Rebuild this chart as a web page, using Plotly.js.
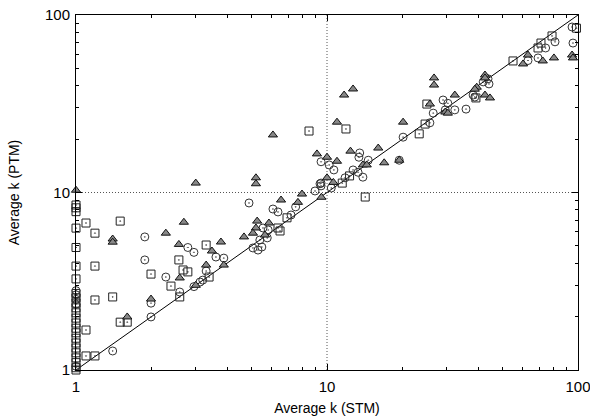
<!DOCTYPE html>
<html>
<head>
<meta charset="utf-8">
<script src="https://cdn.plot.ly/plotly-3.0.1.min.js"></script>
<style>html,body{margin:0;padding:0;background:#fff;}#chart{width:590px;height:420px;}</style>
</head>
<body>
<div id="chart"></div>
<script>
// Triangles (filled gray)
const triX = [1, 1.40, 1.40, 2.28, 2.69, 2.57, 2.59, 1.99, 1.60, 3.0, 5.21, 5.21, 7.95, 6.56, 7.66, 5.27, 5.87, 5.21, 4.67, 3.78, 3.48, 3.88, 3.30, 3.0, 11.7, 12.7, 10.96, 6.09, 9.12, 10.0, 12.4, 10.96, 13.9, 14.4, 10.0, 10.6, 9.5, 26.7, 26.7, 25.7, 32.3, 29.6, 20.1, 16.0, 16.9, 19.4, 94.7, 95.5, 80.2, 72.4, 63.2, 60.4, 42.6, 42.6, 39.5, 38.8, 42.6, 44.6, 5.66, 5.07, 30.3];
const triY = [10.3, 5.47, 5.25, 5.9, 6.8, 5.1, 3.3, 2.51, 1.99, 11.3, 12.1, 11.2, 9.8, 9.07, 8.8, 6.9, 6.73, 6.31, 5.62, 5.26, 4.68, 3.9, 3.9, 3.0, 35.4, 38.3, 24.9, 21.1, 16.5, 15.8, 17.1, 15.0, 14.3, 14.3, 12.1, 11.4, 9.4, 44.2, 40.3, 31.5, 35.4, 28.4, 24.9, 17.8, 14.7, 15.2, 59.5, 57.3, 57.3, 55.1, 59.5, 53.0, 45.9, 44.2, 39.2, 38.2, 35.4, 34.1, 5.76, 5.9, 28.0];

// Squares (open, dotted centre)
const sqX = [1, 1, 1, 1, 1, 1, 1, 1, 1, 1, 1, 1, 1, 1, 1, 1, 1, 1, 1, 1, 1, 1, 1, 1,
  1.096, 1.50, 1.19, 2.57, 1.19, 1.99, 2.67, 2.79, 2.39, 2.59, 1.19, 1.40, 1.50, 1.60, 1.096, 1.096, 1.19, 3.30, 3.39, 6.93, 6.38, 6.5, 11.9, 8.48, 14.2, 12.3, 11.5, 25.0, 24.6, 23.3, 98.6, 78.8, 71.2, 69.3, 55.1, 39.2];
const sqY = [8.5, 8.2, 7.8, 6.3, 4.9, 3.85, 3.26, 2.7, 2.55, 2.38, 2.24, 2.1, 1.96, 1.84, 1.72, 1.62, 1.51, 1.42, 1.33, 1.25, 1.17, 1.1, 1.03, 1.0,
  6.73, 6.9, 5.9, 4.17, 3.85, 3.47, 3.66, 3.57, 2.97, 2.58, 2.48, 2.58, 1.86, 1.86, 1.68, 1.2, 1.2, 5.06, 3.34, 7.2, 6.31, 6.07, 22.8, 22.2, 9.43, 12.4, 11.3, 31.5, 24.3, 21.4, 84.3, 76.2, 69.5, 65.2, 55.1, 34.1];

// Circles (open, dotted centre)
const ciX = [1, 1, 1, 1, 1, 1.88, 2.79, 2.95, 1.88, 2.28, 2.59, 1.99, 1.99, 1.40, 2.95, 8.96, 9.38, 4.89, 7.5, 6.09, 6.38, 7.19, 5.56, 3.61, 3.88, 3.30, 3.2, 3.12, 5.07, 5.31, 5.5, 5.78, 5.4, 5.83, 9.47, 10.2, 10.65, 13.5, 13.4, 14.6, 12.7, 13.3, 13.9, 9.47, 9.47, 10.4, 11.8, 20.1, 29.0, 30.3, 32.3, 29.6, 26.5, 25.7, 19.4, 35.8, 94.7, 95.5, 81.0, 74.3, 69.3, 63.2, 41.9, 43.8, 44.2, 38.2, 38.8];
const ciY = [2.8, 2.65, 2.5, 2.35, 1.05, 5.62, 4.9, 4.6, 4.17, 3.34, 2.75, 2.38, 1.99, 1.28, 2.95, 10.2, 11.2, 8.73, 8.3, 8.07, 7.77, 7.47, 6.31, 4.33, 4.27, 3.61, 3.21, 3.13, 4.87, 4.74, 4.93, 5.55, 5.4, 6.15, 14.9, 14.3, 13.4, 16.7, 15.8, 15.2, 13.4, 13.0, 12.2, 11.3, 10.9, 10.6, 12.1, 20.5, 33.2, 31.8, 29.2, 29.2, 28.0, 24.7, 15.2, 29.5, 85.6, 69.5, 70.6, 65.2, 57.3, 55.4, 42.0, 43.7, 40.9, 35.4, 34.5];

const diagX = [1, 100], diagY = [1, 100];
const refX = [10, 10], refY = [1, 100];

const traces = [
  {x: refX, y: refY, mode: 'lines', line: {color: '#555', width: 1, dash: '1px,2px'}, hoverinfo: 'skip'},
  {x: refY, y: refX, mode: 'lines', line: {color: '#555', width: 1, dash: '1px,2px'}, hoverinfo: 'skip'},
  {x: diagX, y: diagY, mode: 'lines', line: {color: '#000', width: 1}},
  {x: sqX, y: sqY, mode: 'markers', cliponaxis: false, marker: {symbol: 'square-dot', size: 8, color: 'rgba(0,0,0,0)', line: {color: '#222', width: 1}}},
  {x: ciX, y: ciY, mode: 'markers', cliponaxis: false, marker: {symbol: 'circle-dot', size: 8, color: 'rgba(0,0,0,0)', line: {color: '#333', width: 1}}},
  {x: triX, y: triY, mode: 'markers', cliponaxis: false, marker: {symbol: 'triangle-up', size: 8, color: '#888', line: {color: '#111', width: 1}}}
];

const font = 'Liberation Sans, Arial, sans-serif';
const axisBase = {
  type: 'log', range: [0, 2], showgrid: false, zeroline: false,
  showline: true, linecolor: '#000', linewidth: 1, mirror: 'allticks',
  ticks: 'inside', ticklen: 6, tickcolor: '#000',
  tickvals: [1, 10, 100], ticktext: ['1', '10', '100'],
  ticklabeloverflow: 'allow',
  tickfont: {family: font, size: 15, color: '#000'},
  minor: {ticks: 'inside', ticklen: 3, tickcolor: '#000', tickvals: [2,3,4,5,6,7,8,9,20,30,40,50,60,70,80,90]}
};

const layout = {
  width: 590, height: 420,
  margin: {l: 76, r: 12, t: 15, b: 50},
  paper_bgcolor: '#fff', plot_bgcolor: '#fff',
  showlegend: false,
  xaxis: Object.assign({}, axisBase, {ticklabelstandoff: 3, title: {text: 'Average k (STM)', standoff: 9, font: {family: font, size: 14, color: '#000'}}}),
  yaxis: Object.assign({}, axisBase, {ticklabelstandoff: 2, title: {text: 'Average k (PTM)', standoff: 22, font: {family: font, size: 14, color: '#000'}}})
};

Plotly.newPlot('chart', traces, layout, {displayModeBar: false, staticPlot: true});
</script>
</body>
</html>
